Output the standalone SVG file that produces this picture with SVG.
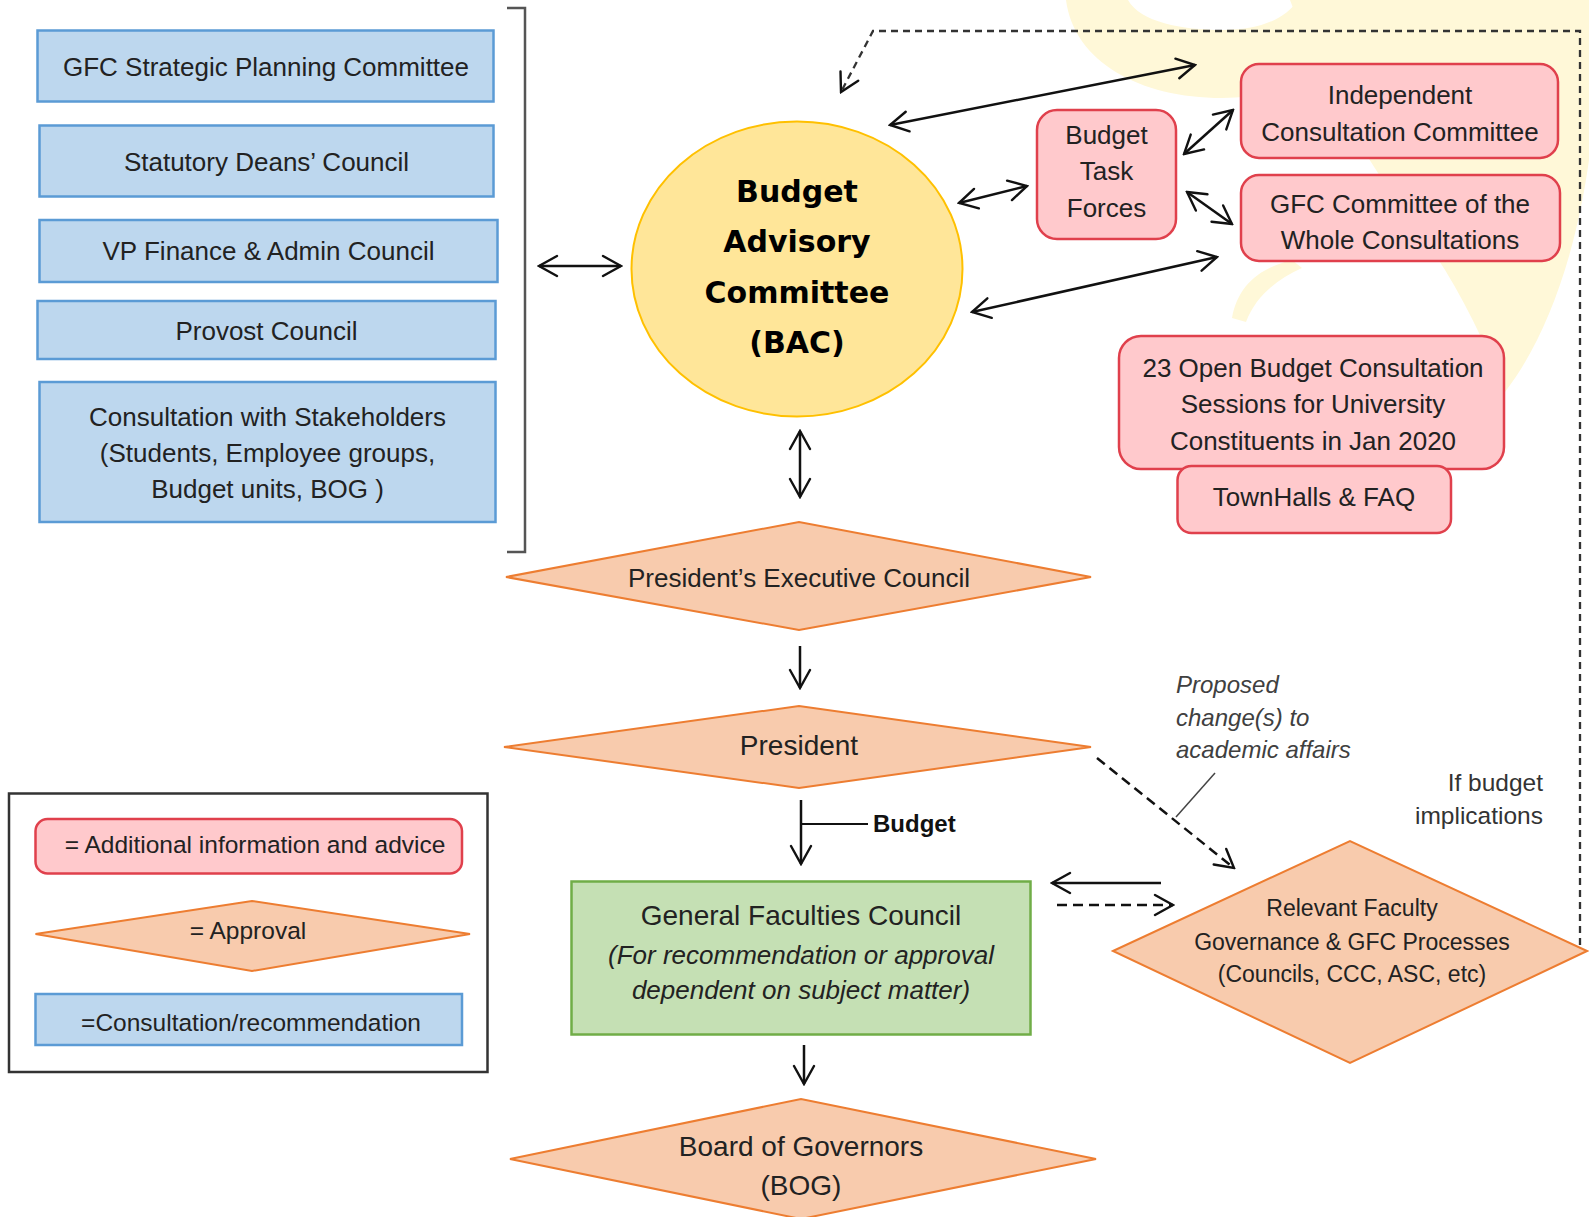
<svg xmlns="http://www.w3.org/2000/svg" width="1589" height="1217" viewBox="0 0 1589 1217">
<defs>
<style>
.blue{fill:#BDD7EE;stroke:#5B9BD5;stroke-width:2.5}
.red{fill:#FFC9CC;stroke:#E0404C;stroke-width:2.5}
.dia{fill:#F8CBAD;stroke:#ED7D31;stroke-width:2}
.green{fill:#C5E0B4;stroke:#70AD47;stroke-width:2.5}
.t{font-family:"Liberation Sans",Arial,sans-serif;font-size:26px;fill:#222;text-anchor:middle}
.b{font-family:"DejaVu Sans",sans-serif;font-weight:bold;font-size:30px;fill:#000;text-anchor:middle}
.lg{font-size:24.5px}
.it{font-style:italic}
.c{stroke:#111;stroke-width:2.5;fill:none}
.d{stroke-dasharray:10 6}
.wm{fill:#FFF8D8}
</style>
<marker id="ah" viewBox="0 0 22 24" refX="20" refY="12" markerWidth="22" markerHeight="24" markerUnits="userSpaceOnUse" orient="auto-start-reverse">
<path d="M2,2 L20,12 L2,22" fill="none" stroke="#111" stroke-width="2.4" stroke-linecap="round"/>
</marker>
</defs>
<rect width="1589" height="1217" fill="#fff"/>
<g id="watermark">
<path class="wm" d="M1066,0 C1074,62 1140,98 1222,98 C1300,98 1352,58 1364,0 L1298,0 C1285,20 1258,30 1222,30 C1182,30 1140,22 1128,0 Z"/>
<path class="wm" d="M1290,0 L1589,0 L1589,160 C1575,260 1545,340 1505,392 C1480,330 1450,270 1410,220 C1360,150 1320,80 1290,0 Z"/>
<path class="wm" d="M1232,318 C1238,285 1260,268 1292,260 L1302,268 C1276,280 1256,296 1246,322 Z"/>
</g>
<g id="bracket">
<path d="M507,8 L525,8 L525,552 L507,552" fill="none" stroke="#555" stroke-width="2.5"/>
</g>
<g id="gfc-spc"><rect class="blue" x="37.5" y="30.5" width="456" height="71"/><text class="t" x="266" y="76">GFC Strategic Planning Committee</text></g>
<g id="deans"><rect class="blue" x="39.5" y="125.5" width="454" height="71"/><text class="t" x="266.5" y="171">Statutory Deans’ Council</text></g>
<g id="vpfa"><rect class="blue" x="39.5" y="220" width="458" height="62"/><text class="t" x="268.5" y="260">VP Finance &amp; Admin Council</text></g>
<g id="provost"><rect class="blue" x="37.5" y="301" width="458" height="58"/><text class="t" x="266.5" y="339.5">Provost Council</text></g>
<g id="stakeholders"><rect class="blue" x="39.5" y="382" width="456" height="140"/>
<text class="t" x="267.5" y="426">Consultation with Stakeholders</text>
<text class="t" x="267.5" y="462">(Students, Employee groups,</text>
<text class="t" x="267.5" y="498">Budget units, BOG )</text></g>
<g id="bac"><ellipse cx="797" cy="269" rx="165.5" ry="147.5" fill="#FFE699" stroke="#FFC000" stroke-width="2"/>
<text class="b" x="797" y="202">Budget</text>
<text class="b" x="797" y="252">Advisory</text>
<text class="b" x="797" y="303">Committee</text>
<text class="b" x="797" y="353">(BAC)</text></g>
<g id="btf"><rect class="red" x="1037" y="110" width="139" height="129" rx="20"/>
<text class="t" x="1106.5" y="144">Budget</text>
<text class="t" x="1106.5" y="180">Task</text>
<text class="t" x="1106.5" y="217">Forces</text></g>
<g id="icc"><rect class="red" x="1241" y="64" width="317" height="94" rx="18"/>
<text class="t" x="1400" y="104">Independent</text>
<text class="t" x="1400" y="141">Consultation Committee</text></g>
<g id="gfc-cow"><rect class="red" x="1241" y="175" width="319" height="86" rx="18"/>
<text class="t" x="1400" y="213">GFC Committee of the</text>
<text class="t" x="1400" y="249">Whole Consultations</text></g>
<g id="open-sessions"><rect class="red" x="1119" y="336" width="385" height="133" rx="22"/>
<text class="t" x="1313" y="377">23 Open Budget Consultation</text>
<text class="t" x="1313" y="413">Sessions for University</text>
<text class="t" x="1313" y="450">Constituents in Jan 2020</text></g>
<g id="townhalls"><rect class="red" x="1177.5" y="466" width="273.5" height="67" rx="14"/>
<text class="t" x="1314" y="506">TownHalls &amp; FAQ</text></g>
<g id="pec"><polygon class="dia" points="506,577 799,522 1091,577 799,630"/>
<text class="t" x="799" y="587">President’s Executive Council</text></g>
<g id="president"><polygon class="dia" points="504,747 799,706 1091,747 799,788"/>
<text class="t" x="799" y="755" style="font-size:28px">President</text></g>
<g id="gfc"><rect class="green" x="571.5" y="881.5" width="459" height="153"/>
<text class="t" x="801" y="925" style="font-size:28px">General Faculties Council</text>
<text class="t it" x="801" y="964">(For recommendation or approval</text>
<text class="t it" x="801" y="999">dependent on subject matter)</text></g>
<g id="bog"><polygon class="dia" points="510,1159 801,1099 1096,1159 801,1219"/>
<text class="t" x="801" y="1156" style="font-size:28px">Board of Governors</text>
<text class="t" x="801" y="1195" style="font-size:28px">(BOG)</text></g>
<g id="relevant"><polygon class="dia" points="1113,951 1350,841 1587,951 1350,1063"/>
<text class="t" x="1352" y="916" style="font-size:23px">Relevant Faculty</text>
<text class="t" x="1352" y="950" style="font-size:23px">Governance &amp; GFC Processes</text>
<text class="t" x="1352" y="982" style="font-size:23px">(Councils, CCC, ASC, etc)</text></g>
<g id="legend"><rect x="9" y="793.5" width="478.5" height="278.5" fill="#fff" stroke="#333" stroke-width="2.5"/>
<rect class="red" x="35.5" y="819" width="426.5" height="54.5" rx="12"/>
<text class="t lg" x="255" y="852.5">= Additional information and advice</text>
<polygon class="dia" points="35.5,934 252,901 470,934 252,971"/>
<text class="t lg" x="248" y="938.5">= Approval</text>
<rect class="blue" x="35.5" y="994" width="426.5" height="51"/>
<text class="t lg" x="251" y="1031">=Consultation/recommendation</text></g>
<g id="labels">
<text class="t it" x="1176" y="693" style="font-size:24px;fill:#404040;text-anchor:start">Proposed</text>
<text class="t it" x="1176" y="726" style="font-size:24px;fill:#404040;text-anchor:start">change(s) to</text>
<text class="t it" x="1176" y="758" style="font-size:24px;fill:#404040;text-anchor:start">academic affairs</text>
<text class="t" x="1543" y="791" style="font-size:24.5px;fill:#333;text-anchor:end">If budget</text>
<text class="t" x="1543" y="824" style="font-size:24.5px;fill:#333;text-anchor:end">implications</text>
<text class="t" x="873" y="832" style="font-size:24px;font-weight:bold;fill:#111;text-anchor:start">Budget</text>
</g>
<g id="connectors">
<path class="c" d="M539,266 L621,266" marker-start="url(#ah)" marker-end="url(#ah)"/>
<path class="c" d="M890,125 L1195,65" marker-start="url(#ah)" marker-end="url(#ah)"/>
<path class="c" d="M959,203 L1027,186" marker-start="url(#ah)" marker-end="url(#ah)"/>
<path class="c" d="M1184,154 L1233,110" marker-start="url(#ah)" marker-end="url(#ah)"/>
<path class="c" d="M1187,192 L1232,224" marker-start="url(#ah)" marker-end="url(#ah)"/>
<path class="c" d="M972,312 L1217,257" marker-start="url(#ah)" marker-end="url(#ah)"/>
<path class="c" d="M800,431 L800,497" marker-start="url(#ah)" marker-end="url(#ah)"/>
<path class="c" d="M1580,945 L1580,31 L873,31 L841,92" style="stroke:#333;stroke-width:2.3;stroke-dasharray:7 5" marker-end="url(#ah)"/>
<path class="c" d="M800,646 L800,688" marker-end="url(#ah)"/>
<path class="c" d="M801,800 L801,864" marker-end="url(#ah)"/>
<path class="c" d="M801,824 L868,824" style="stroke-width:2"/>
<path class="c" d="M804,1045 L804,1084" marker-end="url(#ah)"/>
<path class="c" d="M1161,883 L1052,883" marker-end="url(#ah)"/>
<path class="c d" d="M1057,905 L1173,905" marker-end="url(#ah)"/>
<path class="c d" d="M1097,758 L1234,868" marker-end="url(#ah)"/>
<path d="M1215,773 L1176,817" stroke="#444" stroke-width="1.5" fill="none"/>
</g>
</svg>
